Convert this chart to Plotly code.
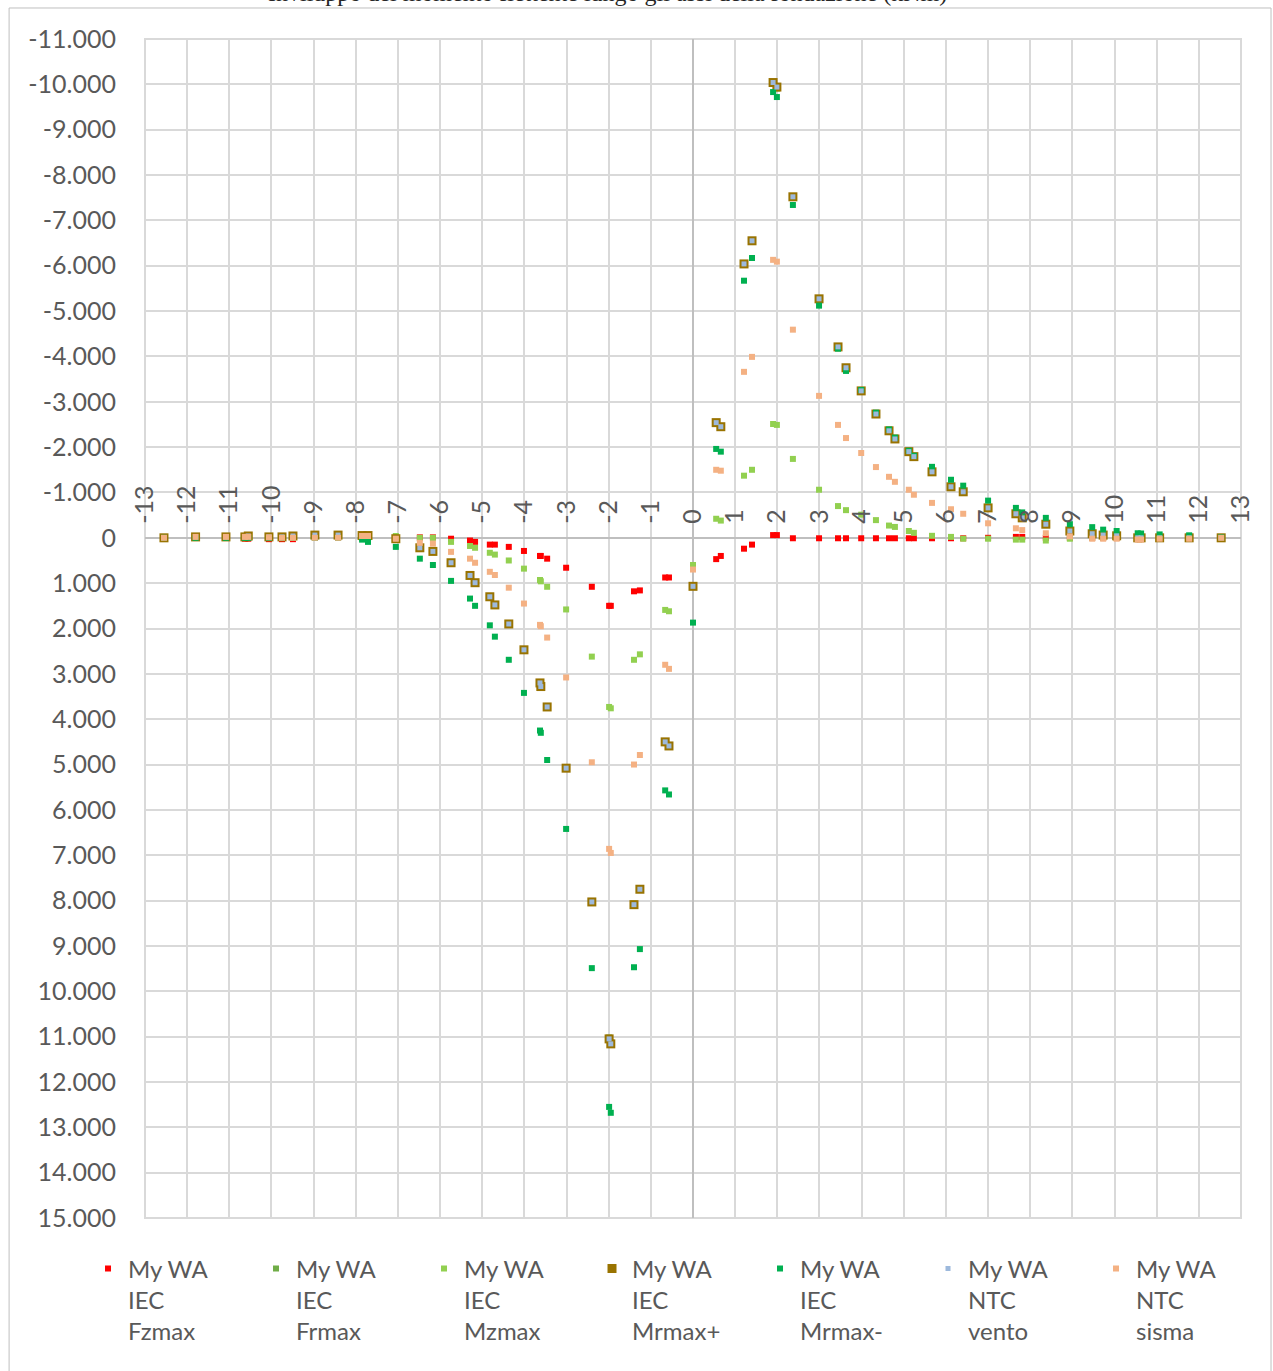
import plotly.graph_objects as go

# Stations along the foundation axis (m)
stations = [-12.55, -11.8, -11.08, -10.63, -10.55, -10.06, -9.75, -9.49, -8.97, -8.42,
            -7.85, -7.71, -7.05, -6.48, -6.17, -5.74, -5.29, -5.17, -4.82, -4.70,
            -4.37, -4.01, -3.63, -3.61, -3.46, -3.01, -2.40, -1.99, -1.95, -1.40,
            -1.26, -0.66, -0.57, 0.0,
            0.55, 0.66, 1.21, 1.40, 1.90, 1.99, 2.37, 2.99, 3.44, 3.63,
            3.99, 4.34, 4.65, 4.79, 5.12, 5.24, 5.67, 6.12, 6.41, 7.0,
            7.66, 7.81, 8.37, 8.94, 9.47, 9.73, 10.05, 10.55, 10.63, 11.07,
            11.77, 12.53]

iec_fzmax = [0, 0, 0, 20, 20, 30, 30, 30, 0, 0,
             0, 0, 0, -10, -10, 20, 60, 90, 150, 150,
             200, 290, 400, 400, 460, 660, 1080, 1500, 1500, 1180,
             1160, 875, 875, 620,
             470, 400, 240, 150, -60, -60, 10, 10, 10, 10,
             10, 10, 10, 10, 10, 10, 10, 10, 10, 0,
             -20, -20, 0, 0, 0, 0, 0, 0, 0, 0,
             0, 0]

iec_frmax = [0, -20, -20, -20, -40, -20, -20, -40, -60, -60,
             -50, -50, 20, 215, 295, 545, 825, 985, 1295, 1475,
             1895, 2460, 3190, 3270, 3720, 5060, 8010, 11020, 11130, 8070,
             7730, 4490, 4580, 1070,
             -2530, -2440, -6020, -6530, -10010, -9910, -7500, -5250, -4200, -3740,
             -3230, -2720, -2350, -2170, -1890, -1780, -1450, -1120, -1010, -655,
             -525, -435, -295, -150, -90, -60, -44, 0, 0, 0,
             0, 0]

iec_mzmax = [0, 0, 0, 0, 0, 0, 0, 0, 0, 0,
             0, 0, -40, 0, 0, 90, 180, 220, 330, 370,
             500, 680, 930, 960, 1080, 1580, 2620, 3730, 3760, 2690,
             2570, 1590, 1620, 600,
             -420, -380, -1370, -1500, -2510, -2490, -1740, -1060, -700, -610,
             -510, -390, -270, -240, -150, -110, -44, -20, 20, 20,
             40, 40, 60, 20, 0, 0, 0, 0, 0, 0,
             0, 0]

iec_mrmax_pos = [0, -20, -20, -20, -40, -20, -20, -40, -60, -60,
                 -50, -50, 20, 220, 300, 550, 830, 990, 1300, 1480,
                 1900, 2470, 3200, 3280, 3730, 5080, 8030, 11050, 11160, 8090,
                 7750, 4500, 4590, 1070,
                 -2540, -2450, -6040, -6550, -10040, -9940, -7520, -5270, -4210, -3750,
                 -3240, -2730, -2360, -2180, -1900, -1790, -1455, -1125, -1015, -660,
                 -530, -440, -300, -150, -90, -60, -44, 0, 0, 0,
                 0, 0]

iec_mrmax_neg = [0, 0, 0, 0, 0, 0, 0, 0, 0, 0,
                 40, 90, 200, 460, 600, 950, 1340, 1500, 1930, 2180,
                 2690, 3420, 4250, 4300, 4900, 6420, 9490, 12550, 12680, 9470,
                 9070, 5570, 5660, 1870,
                 -1960, -1900, -5670, -6170, -9830, -9720, -7340, -5120, -4170, -3680,
                 -3260, -2760, -2390, -2210, -1920, -1810, -1565, -1280, -1150, -820,
                 -660, -560, -440, -300, -235, -180, -150, -100, -95, -75,
                 -55, -10]

ntc_vento = [0, -20, -20, -20, -40, -20, -20, -40, -60, -60,
             -50, -50, 20, 220, 300, 550, 830, 990, 1300, 1480,
             1900, 2470, 3200, 3280, 3730, 5080, 8030, 11050, 11160, 8090,
             7750, 4500, 4590, 1070,
             -2540, -2450, -6040, -6550, -10040, -9940, -7520, -5270, -4210, -3750,
             -3240, -2730, -2360, -2180, -1900, -1790, -1455, -1125, -1015, -660,
             -530, -440, -300, -150, -90, -60, -44, 0, 0, 0,
             0, 0]

ntc_sisma = [0, -20, -20, -20, -20, -10, 0, 0, 0, 0,
             -40, -40, 20, 110, 130, 310, 460, 550, 750, 820,
             1100, 1450, 1920, 1950, 2200, 3080, 4950, 6860, 6950, 5000,
             4790, 2800, 2890, 700,
             -1500, -1480, -3660, -3990, -6130, -6090, -4590, -3130, -2490, -2200,
             -1870, -1560, -1345, -1235, -1060, -950, -770, -630, -530, -320,
             -210, -170, -100, -30, 20, 20, 20, 40, 40, 20,
             20, 0]

series_names = ["My WA<br>IEC<br>Fzmax", "My WA<br>IEC<br>Frmax", "My WA<br>IEC<br>Mzmax",
                "My WA<br>IEC<br>Mrmax+", "My WA<br>IEC<br>Mrmax-", "My WA<br>NTC<br>vento",
                "My WA<br>NTC<br>sisma"]
series_values = [iec_fzmax, iec_frmax, iec_mzmax, iec_mrmax_pos, iec_mrmax_neg, ntc_vento, ntc_sisma]
series_colors = ["#FF0000", "#70AD47", "#92D050", "#997300", "#00B050", "#9DB9DC", "#F4B183"]
series_sizes = [6, 6, 6, 9, 6, 5, 6]

x_tick_vals = list(range(-13, 14))
x_tick_text = [str(v) for v in x_tick_vals]
y_tick_vals = list(range(-11000, 15001, 1000))
y_tick_text = ["-11.000", "-10.000", "-9.000", "-8.000", "-7.000", "-6.000", "-5.000",
               "-4.000", "-3.000", "-2.000", "-1.000", "0", "1.000", "2.000", "3.000",
               "4.000", "5.000", "6.000", "7.000", "8.000", "9.000", "10.000", "11.000",
               "12.000", "13.000", "14.000", "15.000"]

FONT = "Lato"
TXT = "#595959"
GRID = "#D9D9D9"

fig = go.Figure()
for name, vals, col, sz in zip(series_names, series_values, series_colors, series_sizes):
    fig.add_trace(go.Scatter(
        x=stations, y=vals, mode="markers", name=name,
        marker=dict(symbol="square", size=sz, color=col, line=dict(width=0)),
    ))

y_min, y_max = -11000, 15000
zero_pos = (y_max - 0) / (y_max - y_min)

fig.update_layout(
    width=1273, height=1371,
    margin=dict(l=145, r=32, t=39, b=153, autoexpand=False),
    paper_bgcolor="white", plot_bgcolor="white",
    font=dict(family=FONT, size=24, color=TXT),
    showlegend=True,
    legend=dict(
        orientation="h", x=-0.052, xanchor="left", y=-0.024, yanchor="top",
        font=dict(family=FONT, size=24, color=TXT),
        entrywidth=123, entrywidthmode="pixels",
        valign="top", itemwidth=30, tracegroupgap=0,
    ),
    xaxis=dict(
        range=[-13, 13], tickmode="array", tickvals=x_tick_vals, ticktext=x_tick_text,
        tickangle=-90, side="top", anchor="free", position=zero_pos,
        showgrid=True, gridcolor=GRID, gridwidth=2,
        zeroline=True, zerolinecolor="#BFBFBF", zerolinewidth=2,
        showline=False, ticks="", ticklabelstandoff=14,
        tickfont=dict(family=FONT, size=25, color=TXT),
    ),
    yaxis=dict(
        range=[y_max, y_min], tickmode="array", tickvals=y_tick_vals, ticktext=y_tick_text,
        showgrid=True, gridcolor=GRID, gridwidth=2,
        zeroline=True, zerolinecolor="#BFBFBF", zerolinewidth=2,
        showline=False, ticks="", ticklabelstandoff=28,
        tickfont=dict(family=FONT, size=25, color=TXT),
    ),
    shapes=[
        dict(type="rect", xref="paper", yref="paper", x0=0, x1=1, y0=0, y1=1,
             line=dict(color=GRID, width=2), layer="below"),
        dict(type="rect", xref="paper", yref="paper", x0=-0.124, x1=1.0274, y0=-0.14, y1=1.0263,
             line=dict(color="#BFBFBF", width=1), layer="below"),
    ],
    annotations=[
        dict(text="Inviluppo del momento flettente lungo gli assi della fondazione (kNm)",
             xref="paper", yref="paper", x=0.4224, y=1.0262, xanchor="center", yanchor="bottom",
             showarrow=False, font=dict(family="Liberation Serif", size=24, color="#262626")),
    ],
)

fig.write_html("out.html")
